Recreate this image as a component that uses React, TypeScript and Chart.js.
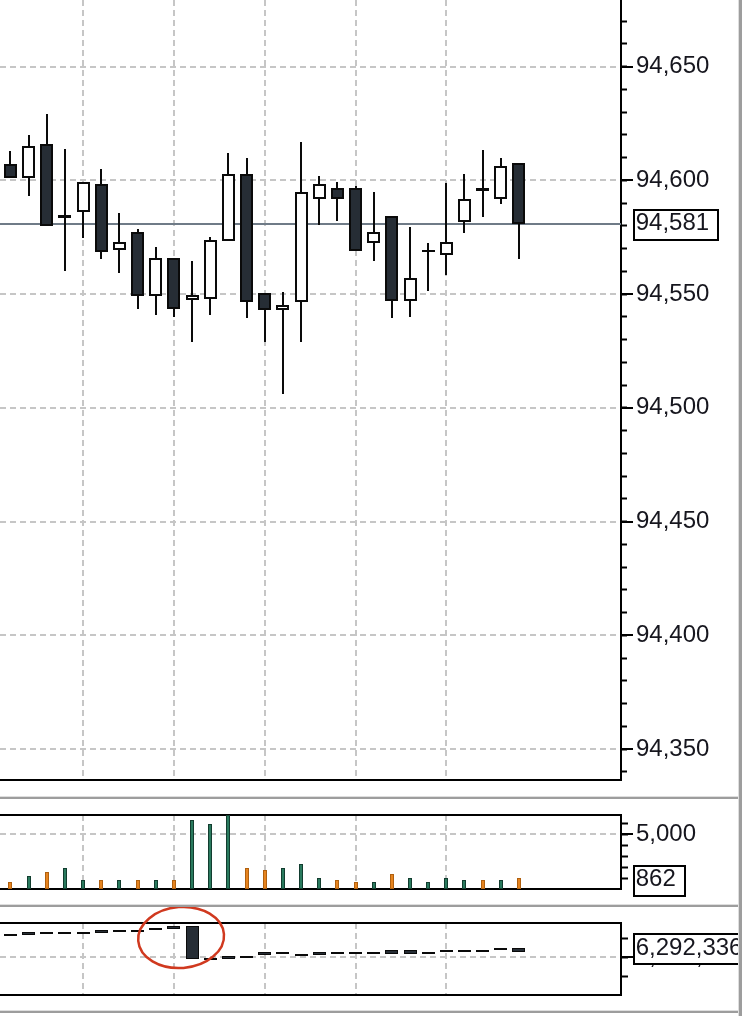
import React, { useEffect, useRef } from 'react';
import { Chart, registerables } from 'chart.js';

Chart.register(...registerables);

// ---------------- data ----------------
const PRICE_OPEN = [94607, 94601, 94616, 94585, 94586, 94598.5, 94569.5, 94577.5, 94549, 94566, 94547.5, 94548, 94573.5, 94603, 94550.5, 94543, 94546.5, 94592, 94596.5, 94596.5, 94572.5, 94584.5, 94547, 94569.5, 94567, 94581.5, 94596.5, 94592, 94607.5];
const PRICE_HIGH = [94613, 94620, 94629, 94614, 94599.5, 94605, 94585.5, 94578.5, 94570.5, 94566, 94564.5, 94575, 94612, 94610, 94550.5, 94551, 94617, 94602, 94599.5, 94597.5, 94595, 94584.5, 94579.5, 94572.5, 94599, 94603, 94613.5, 94610, 94607.5];
const PRICE_LOW = [94601, 94593, 94580, 94560, 94574.5, 94565.5, 94559.5, 94543.5, 94541, 94540, 94529, 94541, 94573.5, 94539.5, 94529, 94506, 94529, 94580.5, 94582, 94569, 94564.5, 94539.5, 94540, 94551.5, 94558.5, 94577, 94584, 94589.5, 94565.5];
const PRICE_CLOSE = [94601, 94615, 94580, 94583.5, 94599.5, 94568.5, 94573, 94549, 94566, 94543.5, 94549.5, 94574, 94603, 94546.5, 94543, 94545, 94595, 94598.5, 94592, 94569, 94577.5, 94547, 94557, 94568.5, 94573, 94592, 94595.5, 94606.5, 94581];

const VOLUME = [640, 1190, 1560, 1920, 820, 820, 820, 820, 820, 820, 6310, 5950, 6760, 1920, 1740, 1920, 2290, 1000, 820, 640, 640, 1370, 1000, 640, 1000, 820, 820, 820, 1000];
const VOLUME_SIDE = ['sell', 'buy', 'sell', 'buy', 'buy', 'sell', 'buy', 'sell', 'buy', 'sell', 'buy', 'buy', 'buy', 'sell', 'sell', 'buy', 'buy', 'buy', 'sell', 'sell', 'buy', 'sell', 'buy', 'buy', 'buy', 'buy', 'sell', 'buy', 'sell'];
const VOLUME_LAST = 862;

const OI_OPEN = [6296130, 6296500, 6296580, 6296580, 6296660, 6297030, 6297100, 6297180, 6297710, 6298080, 6298080, 6289820, 6290180, 6290340, 6291320, 6291400, 6290870, 6291320, 6291400, 6291400, 6291400, 6291760, 6291760, 6291400, 6291920, 6291920, 6291920, 6292450, 6291400];
const OI_CLOSE = [6295610, 6295710, 6296050, 6296050, 6296130, 6296240, 6296580, 6296660, 6297180, 6297290, 6289400, 6289290, 6289400, 6289820, 6290450, 6290870, 6290340, 6290450, 6290870, 6290870, 6290870, 6290870, 6290870, 6290870, 6291400, 6291400, 6291400, 6291920, 6292336];

const X_GRID_TICKS = [4, 9, 14, 19, 24];
const X_MIN = -0.578;
const X_MAX = 33.618;

const PRICE_TICKS = [94350, 94400, 94450, 94500, 94550, 94600, 94650];
const PRICE_MINOR_STEP = 10;
const PRICE_MIN = 94336.4;
const PRICE_MAX = 94679.3;

const VOLUME_TICKS = [5000];
const VOLUME_MINOR_STEP = 1000;
const VOLUME_MIN = 0;
const VOLUME_MAX = 6764;

const OI_TICKS = [6290000];
const OI_MINOR_STEP = 5000;
const OI_MIN = 6280000;
const OI_MAX = 6298950;

const HIGHLIGHT_INDEX = 10;

// ---------------- styles ----------------
const FONT_FAMILY = "'Liberation Sans', Arial, sans-serif";
const FONT_SIZE = 24;
const TEXT = '#16161e';
const AXIS = '#000000';
const GRID = '#c6c6c6';
const DARK_FILL = '#262d35';
const LIGHT_FILL = '#ffffff';
const EDGE = '#0a0a0a';
const BUY_FILL = '#2a7a5e';
const BUY_EDGE = '#123d2f';
const SELL_FILL = '#e6841f';
const SELL_EDGE = '#b0600f';
const PRICE_LINE = '#6f7b87';
const RIGHT_AXIS_W = 125;

const fmt = (v: number) => Number(v).toLocaleString('en-US');
const idx = PRICE_OPEN.map((_, i) => i);

function minorValues(min: number, max: number, step: number) {
  const out: number[] = [];
  for (let v = Math.ceil(min / step) * step; v <= max; v += step) {
    if (v > min + step * 0.05) out.push(v);
  }
  return out;
}

function xScales(bottomH: number, topH: number | null) {
  const scales: any = {
    x: {
      type: 'linear',
      position: 'bottom',
      min: X_MIN,
      max: X_MAX,
      offset: false,
      afterBuildTicks: (s: any) => {
        s.ticks = X_GRID_TICKS.map((v) => ({ value: v }));
      },
      afterFit: (s: any) => {
        s.height = bottomH;
        s.paddingLeft = 0;
        s.paddingRight = 0;
      },
      ticks: { display: false },
      grid: { display: true, offset: false, color: GRID, lineWidth: 2, drawTicks: false },
      border: { display: true, color: AXIS, width: 2, dash: [6, 4] },
    },
  };
  if (topH !== null) {
    scales.xTop = {
      type: 'linear',
      position: 'top',
      min: X_MIN,
      max: X_MAX,
      offset: false,
      afterFit: (s: any) => {
        s.height = topH;
        s.paddingLeft = 0;
        s.paddingRight = 0;
      },
      ticks: { display: false },
      grid: { display: false, drawTicks: false },
      border: { display: true, color: AXIS, width: 2 },
    };
  }
  return scales;
}

function yScales(min: number, max: number, majors: number[], minorStep: number, minorLen: number) {
  return {
    y: {
      type: 'linear',
      position: 'right',
      weight: 1,
      min,
      max,
      beginAtZero: false,
      afterBuildTicks: (s: any) => {
        s.ticks = majors.map((v) => ({ value: v }));
      },
      afterFit: (s: any) => {
        s.width = RIGHT_AXIS_W;
        s.paddingTop = 0;
        s.paddingBottom = 0;
      },
      ticks: {
        display: true,
        autoSkip: false,
        padding: 3,
        color: TEXT,
        font: { family: FONT_FAMILY, size: FONT_SIZE },
        callback: (v: any) => fmt(v),
      },
      grid: { color: GRID, lineWidth: 2, drawTicks: true, tickLength: 12, tickColor: AXIS, tickWidth: 2 },
      border: { display: true, color: AXIS, width: 2, dash: [6, 4] },
    },
    yMinor: {
      type: 'linear',
      position: 'right',
      weight: 0,
      min,
      max,
      beginAtZero: false,
      afterBuildTicks: (s: any) => {
        s.ticks = minorValues(min, max, minorStep).map((v) => ({ value: v }));
      },
      afterFit: (s: any) => {
        s.width = 0;
        s.paddingTop = 0;
        s.paddingBottom = 0;
      },
      ticks: { display: false },
      grid: { drawOnChartArea: false, drawTicks: true, tickLength: minorLen, tickColor: AXIS, tickWidth: 2 },
      border: { display: false },
    },
  };
}

// Snap the bar rectangles computed by the scales to whole pixels so edges stay crisp.
const snapPlugin = {
  id: 'snap',
  beforeDatasetsDraw(chart: any) {
    chart.data.datasets.forEach((_: any, di: number) => {
      const meta = chart.getDatasetMeta(di);
      meta.data.forEach((el: any) => {
        const w = el.width;
        const left = Math.round(el.x - w / 2);
        el.x = left + w / 2;
        let y = Math.round(el.y);
        let b = Math.round(el.base);
        if (Math.abs(y - b) < 2) {
          if (y <= b) b = y + 2;
          else b = y - 2;
        }
        el.y = y;
        el.base = b;
      });
    });
  },
};

const valueBoxPlugin = {
  id: 'valueBox',
  beforeDatasetsDraw(chart: any, _args: any, opts: any) {
    if (!opts || !opts.line) return;
    const { ctx, chartArea } = chart;
    const y = chart.scales.y.getPixelForValue(opts.value);
    ctx.save();
    ctx.strokeStyle = PRICE_LINE;
    ctx.lineWidth = 2;
    ctx.beginPath();
    ctx.moveTo(chartArea.left, Math.round(y - 1) + 1);
    ctx.lineTo(chartArea.right, Math.round(y - 1) + 1);
    ctx.stroke();
    ctx.restore();
  },
  afterDraw(chart: any, _args: any, opts: any) {
    if (!opts || opts.value === undefined) return;
    const { ctx, chartArea } = chart;
    const y = chart.scales.y.getPixelForValue(opts.value);
    const text = fmt(opts.value);
    ctx.save();
    ctx.font = `${FONT_SIZE}px ${FONT_FAMILY}`;
    const w = ctx.measureText(text).width;
    const x0 = Math.round(chartArea.right + 12) + 1;
    const bw = Math.round(w + 11);
    const bh = 30;
    const top = Math.round(y - bh / 2) + 1;
    ctx.fillStyle = '#ffffff';
    ctx.fillRect(x0, top, bw, bh);
    ctx.strokeStyle = AXIS;
    ctx.lineWidth = 2;
    ctx.strokeRect(x0, top, bw, bh);
    ctx.fillStyle = TEXT;
    ctx.textBaseline = 'middle';
    ctx.textAlign = 'left';
    ctx.fillText(text, chartArea.right + 14.7, y);
    ctx.restore();
  },
};

const highlightPlugin = {
  id: 'highlight',
  afterDraw(chart: any, _args: any, opts: any) {
    if (!opts || opts.index === undefined) return;
    const { ctx, chartArea } = chart;
    const cx = chart.scales.x.getPixelForValue(opts.index) - 11;
    const cy = chartArea.top + 14.5;
    ctx.save();
    ctx.strokeStyle = '#d0391f';
    ctx.lineWidth = 2.5;
    ctx.beginPath();
    ctx.ellipse(cx, cy, 43, 30.5, -0.08, 0, Math.PI * 2);
    ctx.stroke();
    ctx.restore();
  },
};

function commonOptions(scales: any, plugins: any) {
  return {
    responsive: false,
    animation: false,
    events: [],
    layout: { padding: 0 },
    scales,
    plugins: {
      legend: { display: false },
      tooltip: { enabled: false },
      ...plugins,
    },
  };
}

function barStyle(thickness: number) {
  return { barThickness: thickness, grouped: false, inflateAmount: 0, borderSkipped: false, xAxisID: 'x', yAxisID: 'y' };
}

function ChartCanvas({ build, top, height }: { build: (c: HTMLCanvasElement) => Chart; top: number; height: number }) {
  const ref = useRef<HTMLCanvasElement | null>(null);
  useEffect(() => {
    if (!ref.current) return;
    const chart = build(ref.current);
    return () => chart.destroy();
  }, []);
  return (
    <canvas
      ref={ref}
      width={746}
      height={height}
      style={{ position: 'absolute', left: 0, top, width: 746, height, display: 'block' }}
    />
  );
}

function buildPrice(canvas: HTMLCanvasElement) {
  return new Chart(canvas, {
    type: 'bar',
    data: {
      datasets: [
        {
          label: 'body',
          data: idx.map((i) => ({ x: i, y: [PRICE_OPEN[i], PRICE_CLOSE[i]] })),
          backgroundColor: idx.map((i) => (PRICE_CLOSE[i] >= PRICE_OPEN[i] ? LIGHT_FILL : DARK_FILL)),
          borderColor: EDGE,
          borderWidth: 2,
          ...barStyle(13),
        },
        {
          label: 'wick',
          data: idx.map((i) => ({ x: i, y: [PRICE_LOW[i], PRICE_HIGH[i]] })),
          backgroundColor: EDGE,
          borderWidth: 0,
          ...barStyle(2),
        },
      ],
    } as any,
    options: commonOptions(
      { ...xScales(10, null), ...yScales(PRICE_MIN, PRICE_MAX, PRICE_TICKS, PRICE_MINOR_STEP, 6) },
      { valueBox: { value: PRICE_CLOSE[PRICE_CLOSE.length - 1], line: true } }
    ) as any,
    plugins: [snapPlugin, valueBoxPlugin],
  });
}

function buildVolume(canvas: HTMLCanvasElement) {
  return new Chart(canvas, {
    type: 'bar',
    data: {
      datasets: [
        {
          label: 'volume',
          data: idx.map((i) => ({ x: i, y: VOLUME[i] })),
          backgroundColor: idx.map((i) => (VOLUME_SIDE[i] === 'buy' ? BUY_FILL : SELL_FILL)),
          borderColor: idx.map((i) => (VOLUME_SIDE[i] === 'buy' ? BUY_EDGE : SELL_EDGE)),
          borderWidth: 1,
          ...barStyle(4),
        },
      ],
    } as any,
    options: commonOptions(
      { ...xScales(11, 15), ...yScales(VOLUME_MIN, VOLUME_MAX, VOLUME_TICKS, VOLUME_MINOR_STEP, 7) },
      { valueBox: { value: VOLUME_LAST, line: false } }
    ) as any,
    plugins: [snapPlugin, valueBoxPlugin],
  });
}

function buildOi(canvas: HTMLCanvasElement) {
  return new Chart(canvas, {
    type: 'bar',
    data: {
      datasets: [
        {
          label: 'oi',
          data: idx.map((i) => ({ x: i, y: [OI_OPEN[i], OI_CLOSE[i]] })),
          backgroundColor: DARK_FILL,
          borderColor: EDGE,
          borderWidth: 1,
          ...barStyle(13),
        },
      ],
    } as any,
    options: commonOptions(
      { ...xScales(10, 19), ...yScales(OI_MIN, OI_MAX, OI_TICKS, OI_MINOR_STEP, 7) },
      {
        valueBox: { value: OI_CLOSE[OI_CLOSE.length - 1], line: false },
        highlight: { index: HIGHLIGHT_INDEX },
      }
    ) as any,
    plugins: [snapPlugin, valueBoxPlugin, highlightPlugin],
  });
}

const sepDark = '#9d9d9d';
const sepLight = '#dedede';

function HSep({ top }: { top: number }) {
  return (
    <>
      <div style={{ position: 'absolute', left: 0, top, width: 740, height: 1, background: sepLight, zIndex: 2 }} />
      <div style={{ position: 'absolute', left: 0, top: top + 1, width: 740, height: 2, background: sepDark, zIndex: 2 }} />
    </>
  );
}

export default function App() {
  return (
    <div style={{ position: 'absolute', left: 0, top: 0, width: 746, height: 1016, background: '#ffffff', overflow: 'hidden' }}>
      <ChartCanvas build={buildPrice} top={0} height={790} />
      <ChartCanvas build={buildVolume} top={800} height={100} />
      <ChartCanvas build={buildOi} top={904} height={101} />
      <HSep top={796} />
      <HSep top={904} />
      <HSep top={1010} />
      <div style={{ position: 'absolute', left: 738, top: 0, width: 1, height: 1016, background: sepLight, zIndex: 3 }} />
      <div style={{ position: 'absolute', left: 739, top: 0, width: 3, height: 1016, background: sepDark, zIndex: 3 }} />
      <div style={{ position: 'absolute', left: 742, top: 0, width: 4, height: 1016, background: '#ffffff', zIndex: 3 }} />
    </div>
  );
}
